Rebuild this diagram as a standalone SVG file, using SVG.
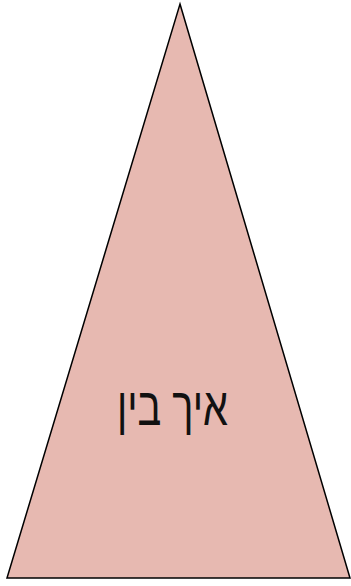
<svg xmlns="http://www.w3.org/2000/svg" width="351" height="586" viewBox="0 0 351 586">
<style>
.tri{fill:#e7b9b1;stroke:#000;stroke-width:1.5}
.lbl{font-family:"Liberation Sans","DejaVu Sans",sans-serif;font-size:53px;fill:#111}
</style>
<rect width="351" height="586" fill="#fff"/>
<g id="node1">
<polygon class="tri" points="180,4 350,578 7,578"/>
<text class="lbl" x="172.5" y="425" text-anchor="middle" direction="rtl" unicode-bidi="embed" textLength="111" lengthAdjust="spacingAndGlyphs">איך בין</text>
</g>
<g id="connectors"/>
</svg>
